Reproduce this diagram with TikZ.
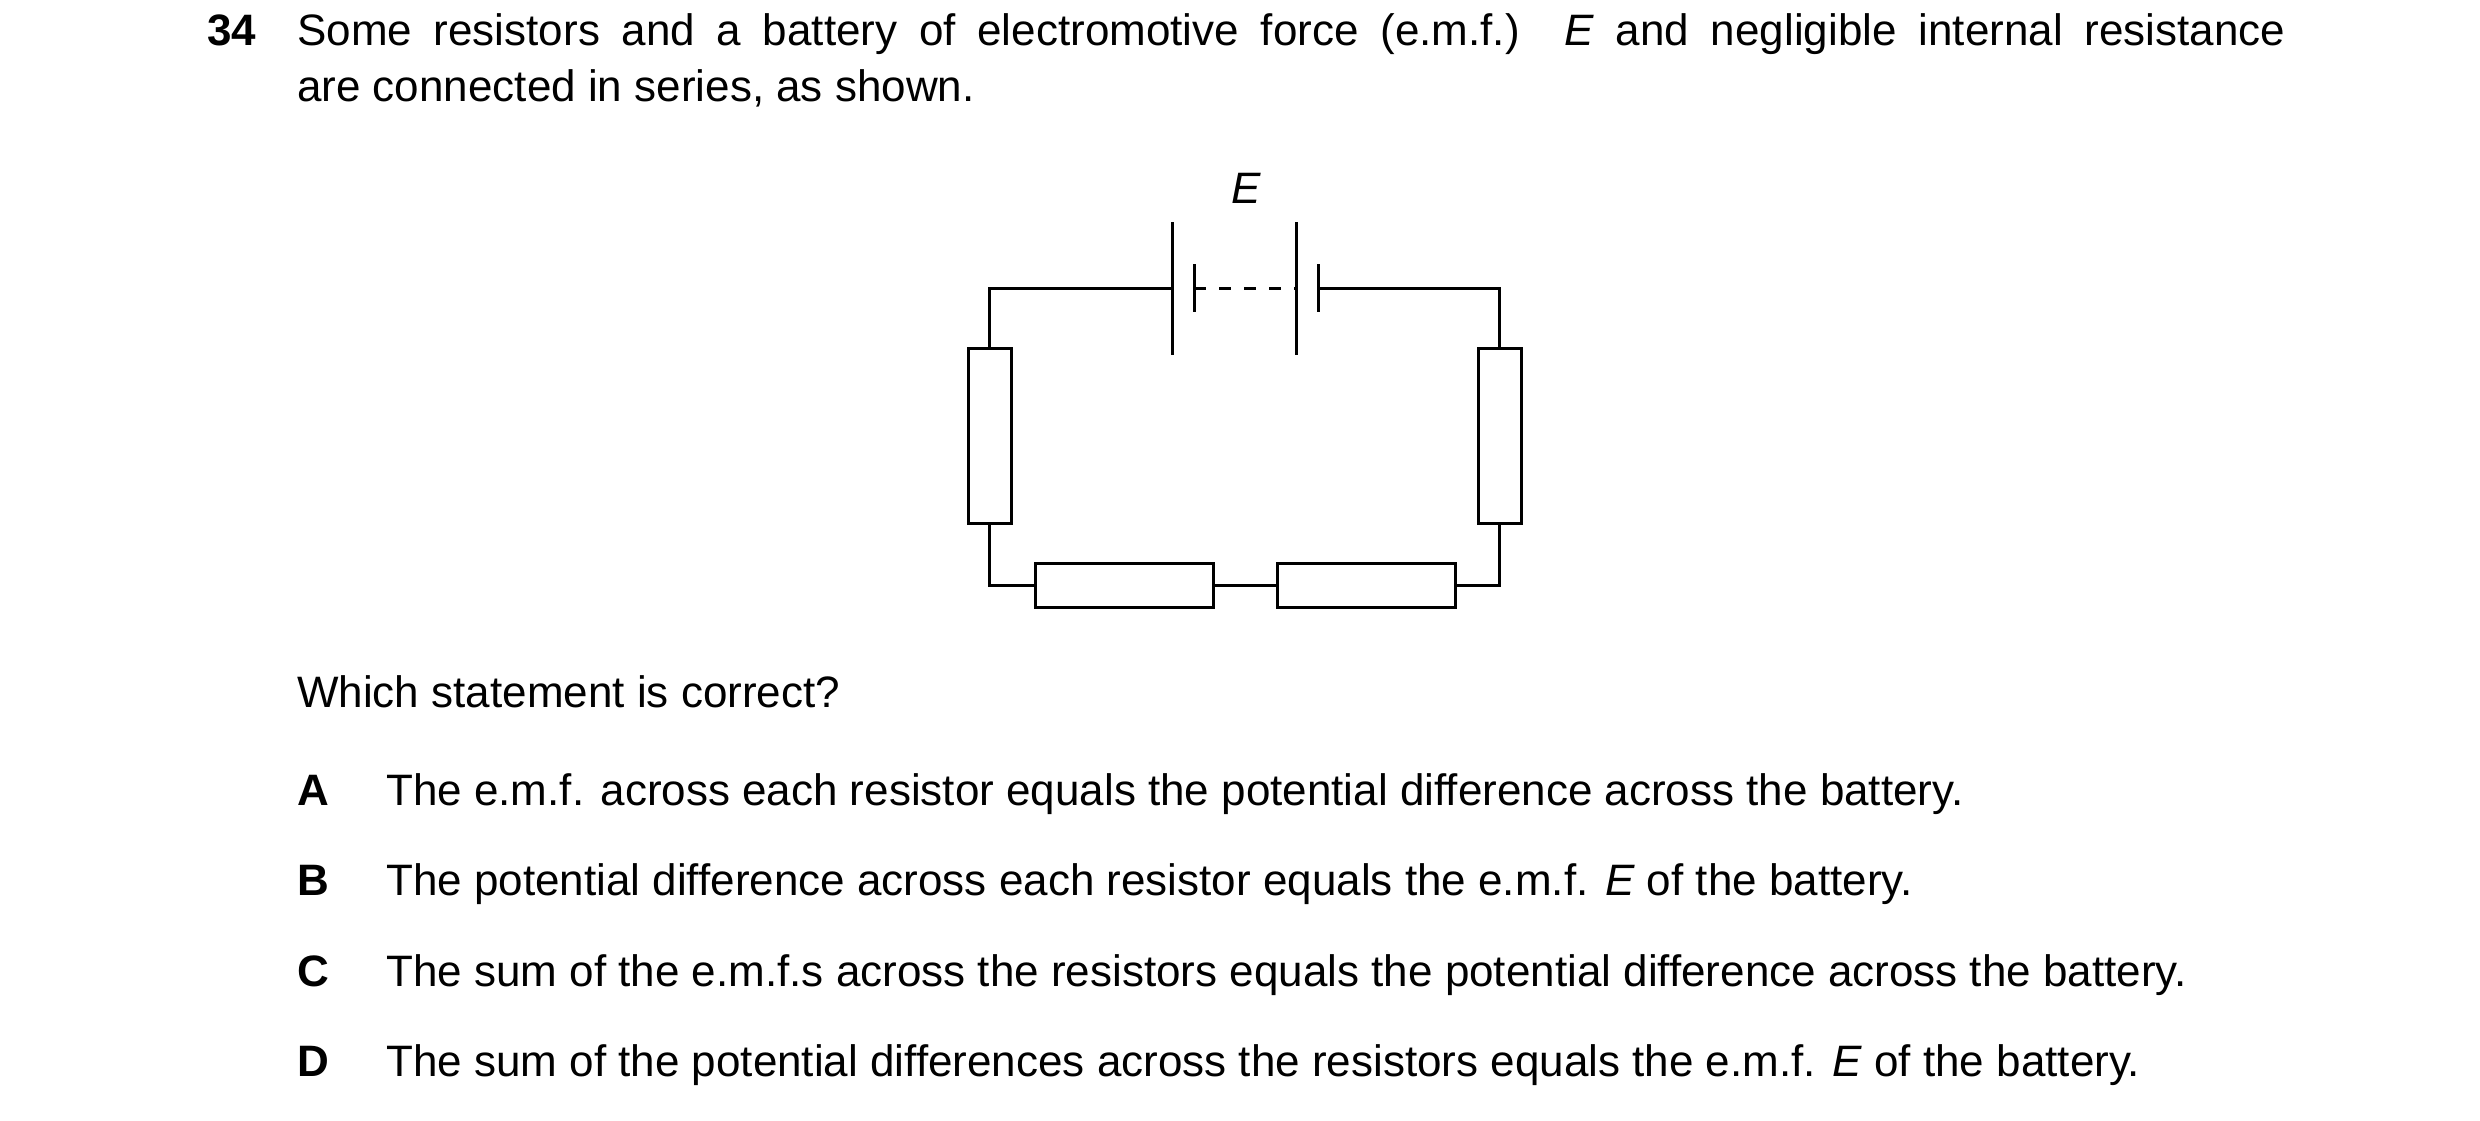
\documentclass[tikz,border=0pt]{standalone}
\usepackage{fontspec}
\setmainfont{Liberation Sans}
\usetikzlibrary{positioning}

\tikzset{
  wire/.style={line width=3pt, line cap=rect},
  resv/.style={draw, line width=3pt, minimum width=43pt, minimum height=175pt, inner sep=0pt},
  resh/.style={draw, line width=3pt, minimum width=178pt, minimum height=44pt, inner sep=0pt},
  txt/.style={anchor=base west, inner sep=0pt, font=\fontsize{44}{56}\selectfont}
}

\begin{document}
\begin{tikzpicture}[x=1pt,y=-1pt]
\useasboundingbox (0,0) rectangle (2480,1120);
% question
\node[txt, font=\fontsize{44}{56}\selectfont\bfseries] (num) at (207,45) {34};
\node[txt, text width=1988pt, align=justify] (stem) at (297,45)
  {Some resistors and a battery of electromotive force (e.m.f.) \textit{E} and negligible internal resistance\linebreak are connected in series, as shown.};
% circuit
\node[resv] (rl) at (989.5,435.5) {};
\node[resv] (rr) at (1499.5,435.5) {};
\node[resh] (rb1) at (1124,585) {};
\node[resh] (rb2) at (1366,585) {};
\coordinate (bl) at (1172,288);
\coordinate (br) at (1318,288);
\draw[wire] (1172,223) -- (1172,353);
\draw[wire] (1194,265) -- (1194,310);
\draw[wire] (1296,223) -- (1296,353);
\draw[wire] (1318,265) -- (1318,310);
\draw[line width=3pt, dash pattern=on 12pt off 13pt] (1194,288) -- (1296,288);
\node[font=\fontsize{44}{56}\selectfont\itshape] (emf) at (1246,188) {E};
\draw[wire] (rl.north) |- (bl);
\draw[wire] (rr.north) |- (br);
\draw[wire] (rl.south) |- (rb1.west);
\draw[wire] (rb1.east) -- (rb2.west);
\draw[wire] (rr.south) |- (rb2.east);
% options
\node[txt] (ask) at (297,707) {Which statement is correct?};
\foreach \l/\y/\t in {
  A/805/{The e.m.f. across each resistor equals the potential difference across the battery.},
  B/895/{The potential difference across each resistor equals the e.m.f. \textit{E} of the battery.},
  C/986/{The sum of the e.m.f.s across the resistors equals the potential difference across the battery.},
  D/1076/{The sum of the potential differences across the resistors equals the e.m.f. \textit{E} of the battery.}}
{
  \node[txt, font=\fontsize{44}{56}\selectfont\bfseries] (opt\l) at (297,\y) {\l};
  \node[txt] (ans\l) at (386,\y) {\t};
}
\end{tikzpicture}
\end{document}
